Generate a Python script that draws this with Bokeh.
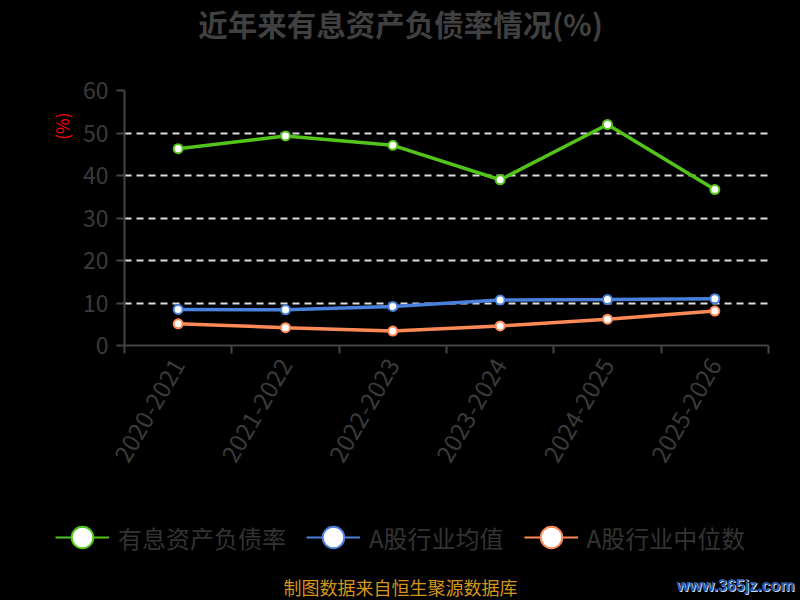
import math
import numpy as np
from bokeh.plotting import figure
from bokeh.layouts import column
from bokeh.models import (ColumnDataSource, FixedTicker, Range1d, Label, Legend, LegendItem, Title)
from bokeh.embed import file_html
from bokeh.resources import INLINE

# ---- data ----
categories = ["2020-2021", "2021-2022", "2022-2023", "2023-2024", "2024-2025", "2025-2026"]
debt_ratio = [46.3, 49.3, 47.1, 39.0, 52.0, 36.7]      # 有息资产负债率
industry_mean = [8.5, 8.4, 9.2, 10.7, 10.8, 11.0]     # A股行业均值
industry_median = [5.1, 4.2, 3.4, 4.6, 6.2, 8.1]      # A股行业中位数
y_ticks = [0, 10, 20, 30, 40, 50, 60]

series_names = ["有息资产负债率", "A股行业均值", "A股行业中位数"]
series_values = [debt_ratio, industry_mean, industry_median]
colors = ["#52c41a", "#4a80dc", "#ff8a56"]

idx = list(range(len(categories)))

FONT = "Noto Sans CJK SC"
TXT = "#3a3a3a"
BG = "#000000"


def blank_fig(w, h):
    f = figure(width=w, height=h, output_backend="svg", toolbar_location=None,
               x_range=Range1d(0, w), y_range=Range1d(0, h),
               x_axis_type=None, y_axis_type=None, frame_align=False,
               min_border_left=0, min_border_right=0, min_border_top=0, min_border_bottom=0)
    f.background_fill_color = BG
    f.border_fill_color = BG
    f.outline_line_color = None
    f.xgrid.grid_line_color = None
    f.ygrid.grid_line_color = None
    return f


# ---- title strip ----
top = blank_fig(800, 50)
top.add_layout(Label(x=400, y=28, x_units="screen", y_units="screen",
                     text="近年来有息资产负债率情况(%)", text_font=FONT, text_font_size="29.5px",
                     text_font_style="bold", text_color="#404040",
                     text_align="center", text_baseline="middle"))

# ---- main chart ----
p = figure(width=800, height=440, output_backend="svg", toolbar_location=None,
           x_range=Range1d(-0.5, len(categories) - 0.5), y_range=Range1d(0, 60),
           frame_align=False,
           min_border_left=124, min_border_right=32, min_border_top=40, min_border_bottom=145)
p.background_fill_color = BG
p.border_fill_color = BG
p.outline_line_color = None

xa = p.xaxis[0]
xa.ticker = FixedTicker(ticks=idx, minor_ticks=[i - 0.5 for i in range(len(categories) + 1)])
xa.major_label_overrides = {i: c for i, c in enumerate(categories)}
xa.major_tick_line_color = None
xa.minor_tick_line_color = "#444444"
xa.minor_tick_line_width = 2
xa.minor_tick_out = 8
xa.minor_tick_in = 0
xa.axis_line_color = "#444444"
xa.axis_line_width = 2
xa.major_label_orientation = math.pi / 3
xa.major_label_text_font = FONT
xa.major_label_text_font_size = "24px"
xa.major_label_text_color = TXT
xa.major_label_standoff = 7

ya = p.yaxis[0]
ya.ticker = FixedTicker(ticks=y_ticks)
ya.minor_tick_line_color = None
ya.major_tick_line_color = "#444444"
ya.major_tick_line_width = 2
ya.major_tick_out = 8
ya.major_tick_in = 0
ya.axis_line_color = "#444444"
ya.axis_line_width = 2
ya.major_label_text_font = FONT
ya.major_label_text_font_size = "23px"
ya.major_label_text_color = TXT
ya.major_label_standoff = 8

p.add_layout(Title(text="(%)", align="right", offset=22, standoff=12,
                   text_font=FONT, text_font_size="17px", text_font_style="normal",
                   text_color="#ff0000"), "left")

p.xgrid.grid_line_color = None
p.ygrid.ticker = FixedTicker(ticks=y_ticks[1:])
p.ygrid.grid_line_color = "#dddddd"
p.ygrid.grid_line_width = 2
p.ygrid.grid_line_dash = "7 5"

for name, vals, col in zip(series_names, series_values, colors):
    src = ColumnDataSource(dict(x=idx, y=vals))
    p.line("x", "y", source=src, line_color=col, line_width=3.5)
    p.scatter("x", "y", source=src, size=9, fill_color="white", line_color=col, line_width=2)

# ---- legend + footer strip ----
bot = blank_fig(800, 110)
items = []
for name, col in zip(series_names, colors):
    dsrc = ColumnDataSource(dict(x=np.array([np.nan]), y=np.array([np.nan])))
    lr = bot.line("x", "y", source=dsrc, line_color=col, line_width=2)
    sr = bot.scatter("x", "y", source=dsrc, fill_color="white", line_color=col, line_width=2)
    items.append(LegendItem(label=name, renderers=[lr, sr]))

legend = Legend(items=items, orientation="horizontal", location=(55, 35),
                glyph_width=54, glyph_height=56, label_standoff=9, spacing=20,
                padding=0, margin=0, border_line_color=None, background_fill_alpha=0,
                label_text_font=FONT, label_text_font_size="24px", label_text_color="#333333")
bot.add_layout(legend, "center")

bot.add_layout(Label(x=400, y=14, x_units="screen", y_units="screen",
                     text="制图数据来自恒生聚源数据库", text_font=FONT, text_font_size="18px",
                     text_color="#d4951c", text_align="center", text_baseline="middle"))
bot.add_layout(Label(x=795, y=14, x_units="screen", y_units="screen",
                     text="www.365jz.com", text_font="Liberation Sans", text_font_size="16px",
                     text_font_style="bold", text_color="#c8d8ee",
                     text_align="right", text_baseline="middle"))
bot.add_layout(Label(x=794, y=15, x_units="screen", y_units="screen",
                     text="www.365jz.com", text_font="Liberation Sans", text_font_size="16px",
                     text_font_style="bold", text_color="#2b5aa8",
                     text_align="right", text_baseline="middle"))

layout = column(top, p, bot, spacing=0)
html = file_html(layout, INLINE)
html = html.replace("<head>", "<head><style>html,body{background:#000000;}</style>", 1)
open("out.html", "w").write(html)
